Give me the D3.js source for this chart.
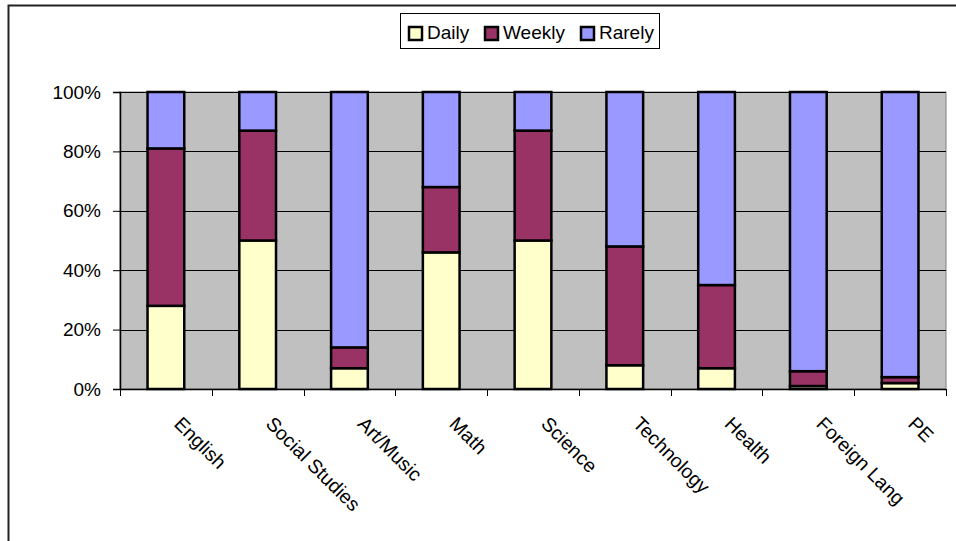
<!DOCTYPE html>
<html>
<head>
<meta charset="utf-8">
<script src="https://cdn.jsdelivr.net/npm/d3@7"></script>
<style>
  html, body { margin: 0; padding: 0; background: #fff; }
  svg { display: block; font-family: "Liberation Sans", Arial, sans-serif; }
</style>
</head>
<body>
<svg id="chart" width="956" height="541"></svg>
<script>
// Subjects and how often each is used (percent of responses)
const categories = ["English", "Social Studies", "Art/Music", "Math", "Science", "Technology", "Health", "Foreign Lang", "PE"];
const seriesNames = ["Daily", "Weekly", "Rarely"];
const daily  = [28, 50, 7, 46, 50, 8, 7, 1, 2];
const weekly = [53, 37, 7, 22, 37, 40, 28, 5, 2];
const rarely = [19, 13, 86, 32, 13, 52, 65, 94, 96];
const colors = ["#FFFFCC", "#993366", "#9999FF"];
const yTicks = [0, 20, 40, 60, 80, 100];

const rows = categories.map((c, i) => ({ cat: c, Daily: daily[i], Weekly: weekly[i], Rarely: rarely[i] }));

const svg = d3.select("#chart");

// outer chart frame
svg.append("rect")
  .attr("x", 8.5).attr("y", 5.5).attr("width", 980).attr("height", 600)
  .attr("fill", "#fff").attr("stroke", "#222").attr("stroke-width", 2);

const plot = { left: 120, right: 946, top: 92, bottom: 389 };

const x = d3.scaleBand().domain(categories).range([plot.left, plot.right]).paddingInner(0.6).paddingOuter(0.3);
const xOuter = d3.scaleBand().domain(categories).range([plot.left, plot.right]);
const y = d3.scaleLinear().domain([0, 100]).range([plot.bottom, plot.top]);

// plot area background
svg.append("rect")
  .attr("x", plot.left).attr("y", plot.top)
  .attr("width", plot.right - plot.left).attr("height", plot.bottom - plot.top)
  .attr("fill", "#C0C0C0").attr("stroke", "#808080").attr("stroke-width", 1);

// horizontal gridlines
svg.append("g")
  .selectAll("line").data(yTicks.filter(t => t > 0)).join("line")
  .attr("x1", plot.left).attr("x2", plot.right)
  .attr("y1", d => Math.round(y(d)) + 0.5).attr("y2", d => Math.round(y(d)) + 0.5)
  .attr("stroke", "#000").attr("stroke-width", 1);

// stacked bars
const stack = d3.stack().keys(seriesNames)(rows);
svg.append("g").selectAll("g").data(stack).join("g")
  .attr("fill", (d, i) => colors[i])
  .selectAll("rect").data(d => d).join("rect")
  .attr("x", d => x(d.data.cat))
  .attr("width", x.bandwidth())
  .attr("y", d => y(d[1]))
  .attr("height", d => y(d[0]) - y(d[1]))
  .attr("stroke", "#000").attr("stroke-width", 2.5);

// value axis
const yAxis = svg.append("g")
  .attr("transform", `translate(${plot.left},0)`)
  .call(d3.axisLeft(y).tickValues(yTicks).tickFormat(d => d + "%").tickSize(7).tickPadding(12));
yAxis.select(".domain").attr("stroke", "#000").attr("stroke-width", 1.5);
yAxis.selectAll(".tick line").attr("stroke", "#000");
yAxis.selectAll(".tick text").attr("font-size", 19).attr("fill", "#000")
  .attr("font-family", "Liberation Sans, Arial, sans-serif");

// category axis with boundary ticks
const xAxisG = svg.append("g");
xAxisG.append("line")
  .attr("x1", plot.left).attr("x2", plot.right)
  .attr("y1", plot.bottom + 0.5).attr("y2", plot.bottom + 0.5)
  .attr("stroke", "#000").attr("stroke-width", 1.5);
const bounds = categories.map(c => xOuter(c)).concat([plot.right]);
xAxisG.selectAll("line.tk").data(bounds).join("line").attr("class", "tk")
  .attr("x1", d => Math.round(d) + 0.5).attr("x2", d => Math.round(d) + 0.5)
  .attr("y1", plot.bottom).attr("y2", plot.bottom + 7)
  .attr("stroke", "#000").attr("stroke-width", 1);

// rotated category labels
xAxisG.selectAll("text").data(categories).join("text")
  .attr("transform", d => `translate(${xOuter(d) + xOuter.bandwidth() / 2 + 7},425) rotate(45)`)
  .attr("font-size", 19.5).attr("fill", "#000")
  .text(d => d);

// legend
const legend = svg.append("g");
legend.append("rect")
  .attr("x", 400.5).attr("y", 13.5).attr("width", 259).attr("height", 35)
  .attr("fill", "#fff").attr("stroke", "#000").attr("stroke-width", 1);
const swatchX = [409, 485, 581];
const items = legend.selectAll("g").data(seriesNames).join("g")
  .attr("transform", (d, i) => `translate(${swatchX[i]},27)`);
items.append("rect")
  .attr("width", 13).attr("height", 13)
  .attr("fill", (d, i) => colors[i]).attr("stroke", "#000").attr("stroke-width", 2.5);
items.append("text")
  .attr("x", 18).attr("y", 12)
  .attr("font-size", 19).attr("fill", "#000")
  .text(d => d);
</script>
</body>
</html>
